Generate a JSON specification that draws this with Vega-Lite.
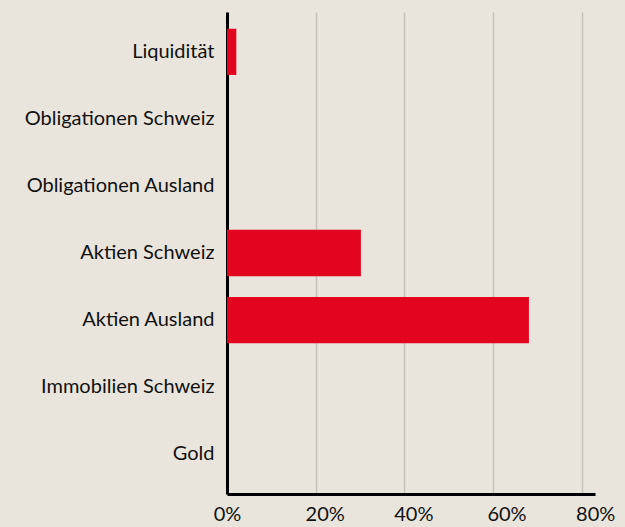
{
  "$schema": "https://vega.github.io/schema/vega-lite/v6.json",
  "width": 368,
  "height": 482,
  "autosize": "none",
  "padding": {"left": 227, "top": 12, "right": 30, "bottom": 33},
  "background": "#e9e5dc",
  "config": {
    "view": {"stroke": null},
    "font": "Lato"
  },
  "data": {
    "values": [
      {"kategorie": "Liquidität", "anteil": 0.021},
      {"kategorie": "Obligationen Schweiz", "anteil": 0},
      {"kategorie": "Obligationen Ausland", "anteil": 0},
      {"kategorie": "Aktien Schweiz", "anteil": 0.302},
      {"kategorie": "Aktien Ausland", "anteil": 0.681},
      {"kategorie": "Immobilien Schweiz", "anteil": 0},
      {"kategorie": "Gold", "anteil": 0}
    ]
  },
  "mark": {"type": "bar", "color": "#e3051f"},
  "encoding": {
    "y": {
      "field": "kategorie",
      "type": "nominal",
      "sort": null,
      "title": null,
      "scale": {"paddingInner": 0.31, "paddingOuter": 0.25},
      "axis": {
        "domainColor": "#000000",
        "domainWidth": 3,
        "ticks": false,
        "labelPadding": 13,
        "labelFontSize": 20,
        "labelColor": "#111111",
        "labelLimit": 0,
        "grid": false
      }
    },
    "x": {
      "field": "anteil",
      "type": "quantitative",
      "title": null,
      "scale": {"domain": [0, 0.83], "nice": false},
      "axis": {
        "values": [0, 0.2, 0.4, 0.6, 0.8],
        "format": ".0%",
        "domainColor": "#000000",
        "domainWidth": 3,
        "ticks": false,
        "labelPadding": 10,
        "labelFontSize": 20,
        "labelColor": "#111111",
        "labelFlush": false,
        "labelOffset": {"condition": [{"test": "datum.value == 0", "value": 0}, {"test": "datum.value < 0.5", "value": 9}], "value": 13.5},
        "grid": true,
        "gridColor": "#c5c1b9",
        "gridWidth": 1.5
      }
    }
  }
}
